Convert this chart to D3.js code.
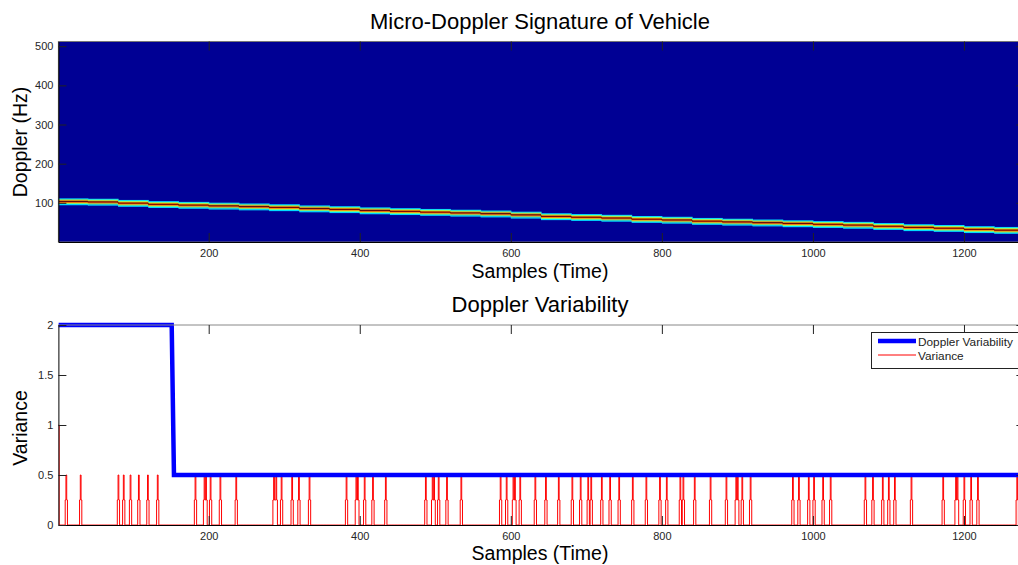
<!DOCTYPE html>
<html>
<head>
<meta charset="utf-8">
<script src="https://cdn.jsdelivr.net/npm/d3@7"></script>
<style>
  body { margin: 0; background: #fff; }
  text { font-family: "Liberation Sans", Arial, sans-serif; }
  .tick text { font-size: 11px; fill: #262626; }
</style>
</head>
<body>
<div class="chart"></div>
<script>
// top plot: peak doppler track, one value per segment of samples
var segStart = [1, 40, 80, 120, 160, 200, 240, 280, 320, 360, 400, 440, 480, 520, 560, 600,
                640, 680, 720, 760, 800, 840, 880, 920, 960, 1000, 1040, 1080, 1120, 1160, 1200, 1240];
var segHz    = [103, 102, 99, 96, 94, 92, 90, 88, 85, 83, 80, 78, 76, 74, 72, 69,
                65, 63, 61, 58, 56, 53, 51, 49, 47, 45, 43, 40, 37, 35, 32, 30];
// spread of the energy around the peak (bins above/below) and its level
var bandOffsets = [3, 2, 1, 0, -1, -2, -3];
var bandLevels  = [0.34, 0.52, 0.72, 0.93, 0.74, 0.52, 0.34];
var binHz = 2.4;

// bottom plot
var variabilityX = [1, 151, 154, 1280];
var variabilityY = [2, 2, 0.5, 0.5];
var spikeSamples = [11, 30, 80, 87, 96, 107, 119, 132, 182, 194, 196, 202, 215, 236,
                    286, 289, 296, 310, 319, 333, 382, 395, 397, 406, 417, 434,
                    487, 496, 498, 504, 515, 534, 586, 594, 603, 605, 612, 632, 646,
                    663, 681, 692, 702, 706, 720, 731, 743, 761, 779, 797, 806, 824,
                    828, 843, 864, 885, 898, 900, 906, 917, 973, 981, 994, 1001, 1013,
                    1023, 1069, 1079, 1092, 1100, 1108, 1130, 1172, 1189, 1191, 1200,
                    1209, 1218, 1270];
var spikeShape = [0.25, 0.5, 0.25];   // values at sample offsets -1..1
var firstValue = 1;                   // variance at sample 1

var xTicks = [200, 400, 600, 800, 1000, 1200];
var dopplerTicks = [100, 200, 300, 400, 500];
var varianceTicks = [0, 0.5, 1, 1.5, 2];

function jet(t) {
    function c(v) { return Math.round(255 * Math.max(0, Math.min(1, v))); }
    return "rgb(" + c(1.5 - Math.abs(4 * t - 3)) + "," + c(1.5 - Math.abs(4 * t - 2)) + "," + c(1.5 - Math.abs(4 * t - 1)) + ")";
}

function init() {
    var w = 1018, h = 565;
    var left = 58.4, right = 1024.4;
    var svg = d3.select(".chart").append("svg")
        .attr("width", w)
        .attr("height", h);

    var x = d3.scaleLinear().domain([1, 1280]).range([left, right]);

    // ---------- top: spectrogram ----------
    var t0 = 41.5, t1 = 242;
    var yD = d3.scaleLinear().domain([0, 512]).range([t1, t0]);

    svg.append("clipPath").attr("id", "clipTop")
        .append("rect").attr("x", left).attr("y", t0).attr("width", right - left).attr("height", t1 - t0);

    var top = svg.append("g").attr("clip-path", "url(#clipTop)");
    top.append("rect")
        .attr("x", left).attr("y", t0)
        .attr("width", right - left).attr("height", t1 - t0)
        .attr("fill", jet(0.02));

    var cells = [];
    segStart.forEach(function (s, i) {
        var e = i < segStart.length - 1 ? segStart[i + 1] : 1280;
        bandOffsets.forEach(function (o, j) {
            cells.push({ s: s, e: e, f: segHz[i] + o * binHz, v: bandLevels[j] });
        });
    });
    top.selectAll("rect.cell")
        .data(cells)
        .enter()
        .append("rect")
        .attr("class", "cell")
        .attr("x", function (d) { return x(d.s); })
        .attr("width", function (d) { return x(d.e) - x(d.s) + 0.5; })
        .attr("y", function (d) { return yD(d.f + binHz / 2); })
        .attr("height", function (d) { return yD(d.f - binHz / 2) - yD(d.f + binHz / 2) + 0.3; })
        .attr("fill", function (d) { return jet(d.v); });

    // peak track
    var track = segStart.map(function (s, i) { return [s, segHz[i] + 0.6]; });
    track.push([1280, segHz[segHz.length - 1] + 0.6]);
    top.append("path")
        .datum(track)
        .attr("fill", "none")
        .attr("stroke", "#000")
        .attr("stroke-opacity", 0.6)
        .attr("stroke-width", 0.8)
        .attr("d", d3.line().curve(d3.curveStepAfter)
            .x(function (d) { return x(d[0]); })
            .y(function (d) { return yD(d[1]); }));

    svg.append("rect")
        .attr("x", left).attr("y", t0)
        .attr("width", right - left).attr("height", t1 - t0)
        .attr("fill", "none").attr("stroke", "#777").attr("stroke-width", 1);

    drawAxes(svg, x, yD, dopplerTicks, t0, t1, left, right, d3.format("d"));

    svg.append("text").attr("x", 540).attr("y", 29).attr("text-anchor", "middle")
        .style("font-size", "22px").text("Micro-Doppler Signature of Vehicle");
    svg.append("text").attr("x", 540).attr("y", 278).attr("text-anchor", "middle")
        .style("font-size", "19.5px").text("Samples (Time)");
    svg.append("text").attr("transform", "translate(27,142) rotate(-90)").attr("text-anchor", "middle")
        .style("font-size", "19.5px").text("Doppler (Hz)");

    // ---------- bottom: variability ----------
    var b0 = 325, b1 = 525;
    var yV = d3.scaleLinear().domain([0, 2]).range([b1, b0]);

    var variance = [];
    for (var s = 1; s <= 1280; s++) variance.push(0);
    variance[0] = firstValue;
    spikeSamples.forEach(function (c) {
        spikeShape.forEach(function (v, k) {
            var i = c - 1 + k - 1;
            if (i >= 0 && i < variance.length) variance[i] = Math.max(variance[i], v);
        });
    });

    svg.append("clipPath").attr("id", "clipBot")
        .append("rect").attr("x", left).attr("y", b0 - 4).attr("width", right - left).attr("height", b1 - b0 + 4);

    var bot = svg.append("g").attr("clip-path", "url(#clipBot)");
    bot.append("path")
        .datum(variance)
        .attr("fill", "none")
        .attr("stroke", "#ff0000")
        .attr("stroke-width", 1)
        .attr("d", d3.line().curve(d3.curveStepAfter)
            .x(function (d, i) { return x(i + 1); })
            .y(function (d) { return yV(d); }));

    bot.append("path")
        .datum(variabilityX.map(function (v, i) { return [v, variabilityY[i]]; }))
        .attr("fill", "none")
        .attr("stroke", "#0000ff")
        .attr("stroke-width", 4.5)
        .attr("d", d3.line()
            .x(function (d) { return x(d[0]); })
            .y(function (d) { return yV(d[1]); }));

    svg.append("line").attr("x1", left).attr("x2", right).attr("y1", b0).attr("y2", b0)
        .attr("stroke", "#888").attr("stroke-width", 1);

    drawAxes(svg, x, yV, varianceTicks, b0, b1, left, right, function (d) { return d; });

    svg.append("text").attr("x", 540).attr("y", 312).attr("text-anchor", "middle")
        .style("font-size", "22px").text("Doppler Variability");
    svg.append("text").attr("x", 540).attr("y", 560).attr("text-anchor", "middle")
        .style("font-size", "19.5px").text("Samples (Time)");
    svg.append("text").attr("transform", "translate(27,428) rotate(-90)").attr("text-anchor", "middle")
        .style("font-size", "19.5px").text("Variance");

    // legend
    var lg = svg.append("g");
    lg.append("rect").attr("x", 871.5).attr("y", 332.5).attr("width", 150).attr("height", 36)
        .attr("fill", "#fff").attr("stroke", "#222").attr("stroke-width", 1);
    lg.append("line").attr("x1", 878).attr("x2", 916).attr("y1", 341).attr("y2", 341)
        .attr("stroke", "#0000ff").attr("stroke-width", 4.5);
    lg.append("line").attr("x1", 878).attr("x2", 916).attr("y1", 355).attr("y2", 355)
        .attr("stroke", "#ff0000").attr("stroke-width", 1);
    lg.append("text").attr("x", 918).attr("y", 345.5).style("font-size", "11.8px").attr("fill", "#222")
        .text("Doppler Variability");
    lg.append("text").attr("x", 918).attr("y", 359.5).style("font-size", "11.8px").attr("fill", "#222")
        .text("Variance");
}

function drawAxes(svg, x, y, yTicks, y0, y1, left, right, fmt) {
    svg.append("g").attr("transform", "translate(0," + y1 + ")")
        .call(d3.axisBottom(x).tickValues(xTicks).tickSize(-9).tickSizeOuter(0).tickPadding(7).tickFormat(d3.format("d")));
    svg.append("g").attr("transform", "translate(0," + y0 + ")")
        .call(d3.axisTop(x).tickValues(xTicks).tickSize(-9).tickSizeOuter(0).tickFormat(""))
        .select(".domain").remove();
    svg.append("g").attr("transform", "translate(" + left + ",0)")
        .call(d3.axisLeft(y).tickValues(yTicks).tickSize(-8).tickSizeOuter(0).tickPadding(5).tickFormat(fmt));
    svg.append("g").attr("transform", "translate(" + right + ",0)")
        .call(d3.axisRight(y).tickValues(yTicks).tickSize(-8).tickSizeOuter(0).tickFormat(""));
    svg.selectAll(".tick line").attr("stroke", "#222");
    svg.selectAll(".domain").attr("stroke", "#000");
}

window.onload = init;
</script>
</body>
</html>
